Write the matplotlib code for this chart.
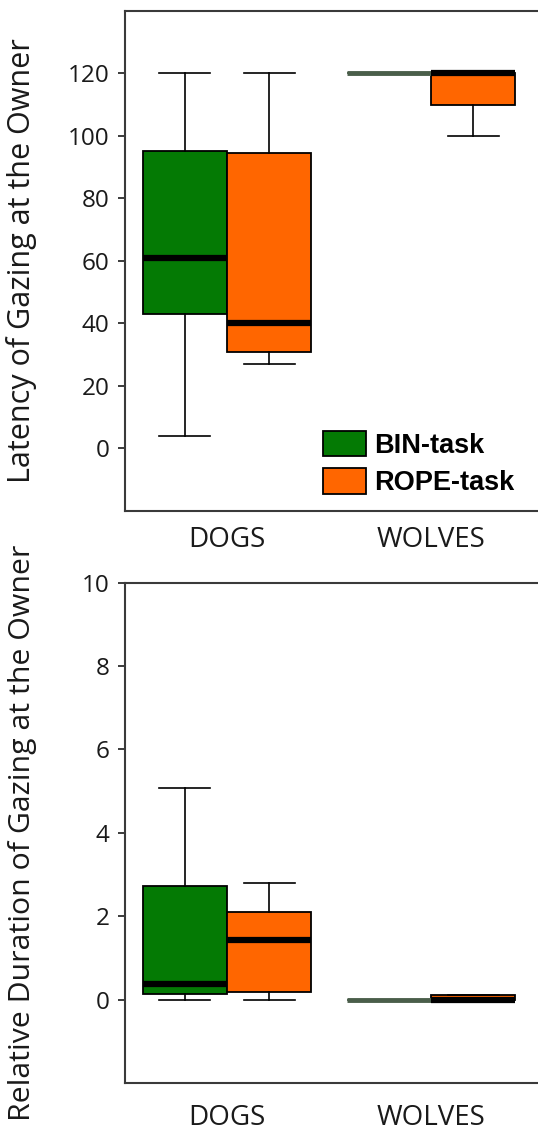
import matplotlib
matplotlib.use("Agg")
import matplotlib.pyplot as plt
from matplotlib.patches import Patch
from matplotlib.transforms import ScaledTranslation

# ---------------- data ----------------
categories = ["DOGS", "WOLVES"]
tasks = ["BIN-task", "ROPE-task"]
# five-number summaries per category: [whisker low, Q1, median, Q3, whisker high]
latency_bin = [[4, 43, 61, 95, 120], [120, 120, 120, 120, 120]]
latency_rope = [[27, 31, 40, 94.5, 120], [100, 110, 120, 120, 120]]
duration_bin = [[0, 0.13, 0.37, 2.74, 5.08], [0, 0, 0, 0, 0]]
duration_rope = [[0, 0.19, 1.44, 2.11, 2.8], [0, 0, 0, 0.12, 0.12]]
latency_ticks = [0, 20, 40, 60, 80, 100, 120]
duration_ticks = [0, 2, 4, 6, 8, 10]

green = "#047a04"
orange = "#ff6600"
flat_green = "#4a5e4a"

W, H = 538, 1130
fig = plt.figure(figsize=(W / 100, H / 100), dpi=100)

label_font = "Open Sans"


def stats_from(summary, names):
    out = []
    for s, n in zip(summary, names):
        out.append(dict(whislo=s[0], q1=s[1], med=s[2], q3=s[3], whishi=s[4], label=n, fliers=[]))
    return out


def panel(rect, bin_data, rope_data, ylim, yticks, ylabel, xpad, ylabel_size):
    ax = fig.add_axes(rect)
    centers = [1, 2]
    off, width = 0.207, 0.414
    elems = []
    for data, color, sign in ((bin_data, green, -1), (rope_data, orange, 1)):
        st = stats_from(data, categories)
        e = ax.bxp(st, positions=[c + sign * off for c in centers], widths=width,
                   patch_artist=True, showfliers=False, capwidths=0.25,
                   boxprops=dict(facecolor=color, edgecolor="black", linewidth=1.3),
                   medianprops=dict(color="black", linewidth=4.5, solid_capstyle="butt"),
                   whiskerprops=dict(color="black", linewidth=1.2),
                   capprops=dict(color="black", linewidth=1.2),
                   manage_ticks=False)
        elems.append(e)
    # flat (degenerate) BIN box for wolves
    e = elems[0]
    e["medians"][1].set_color(flat_green)
    e["medians"][1].set_linewidth(3.5)
    for c in e["caps"][2:4]:
        c.set_visible(False)
    for w in e["whiskers"][2:4]:
        w.set_visible(False)
    e["boxes"][1].set_edgecolor(flat_green)

    ax.set_xlim(0.5, 0.5 + 413 / 204)
    ax.set_ylim(*ylim)
    ax.set_yticks(yticks)
    ax.set_yticklabels([str(t) for t in yticks], fontfamily=label_font, fontsize=17.5)
    ax.set_xticks(centers)
    ax.set_xticklabels(categories, fontfamily=label_font, fontsize=20)
    shifts = [-12, 7]
    for lab, dx in zip(ax.get_xticklabels(), shifts):
        lab.set_transform(lab.get_transform() + ScaledTranslation(dx / 100, 0, fig.dpi_scale_trans))
    ax.tick_params(axis="x", length=0, pad=xpad, colors="#1a1a1a")
    ax.tick_params(axis="y", length=5, width=1.2, pad=6, colors="#1a1a1a", direction="out")
    for s in ("left", "bottom", "top"):
        ax.spines[s].set_color("#3a3a3a")
        ax.spines[s].set_linewidth(1.5)
    ax.spines["right"].set_visible(False)
    ax.set_ylabel(ylabel, fontfamily=label_font, fontsize=ylabel_size, color="#1a1a1a")
    ax.yaxis.set_label_coords(-0.212, 0.5)
    return ax


ax1 = panel([125 / W, 1 - 511 / H, (W - 125) / W, 500.3 / H],
            latency_bin, latency_rope, (-20, 140), latency_ticks,
            "Latency of Gazing at the Owner", 11, 22)
ax2 = panel([125 / W, 1 - 1083.4 / H, (W - 125) / W, 500.9 / H],
            duration_bin, duration_rope, (-2, 10), duration_ticks,
            "Relative Duration of Gazing at the Owner", 15, 21.8)

handles = [Patch(facecolor=green, edgecolor="black", linewidth=1.3),
           Patch(facecolor=orange, edgecolor="black", linewidth=1.3)]
leg = ax1.legend(handles, tasks, loc="lower left",
                 bbox_to_anchor=(323 / W, 1 - 496 / H), bbox_transform=fig.transFigure,
                 frameon=False, borderpad=0, borderaxespad=0,
                 handlelength=1.6, handleheight=1.07, handletextpad=0.3,
                 labelspacing=0.35,
                 prop=dict(family="Liberation Sans", weight="bold", size=19.5))

fig.savefig("out.png", dpi=100)
